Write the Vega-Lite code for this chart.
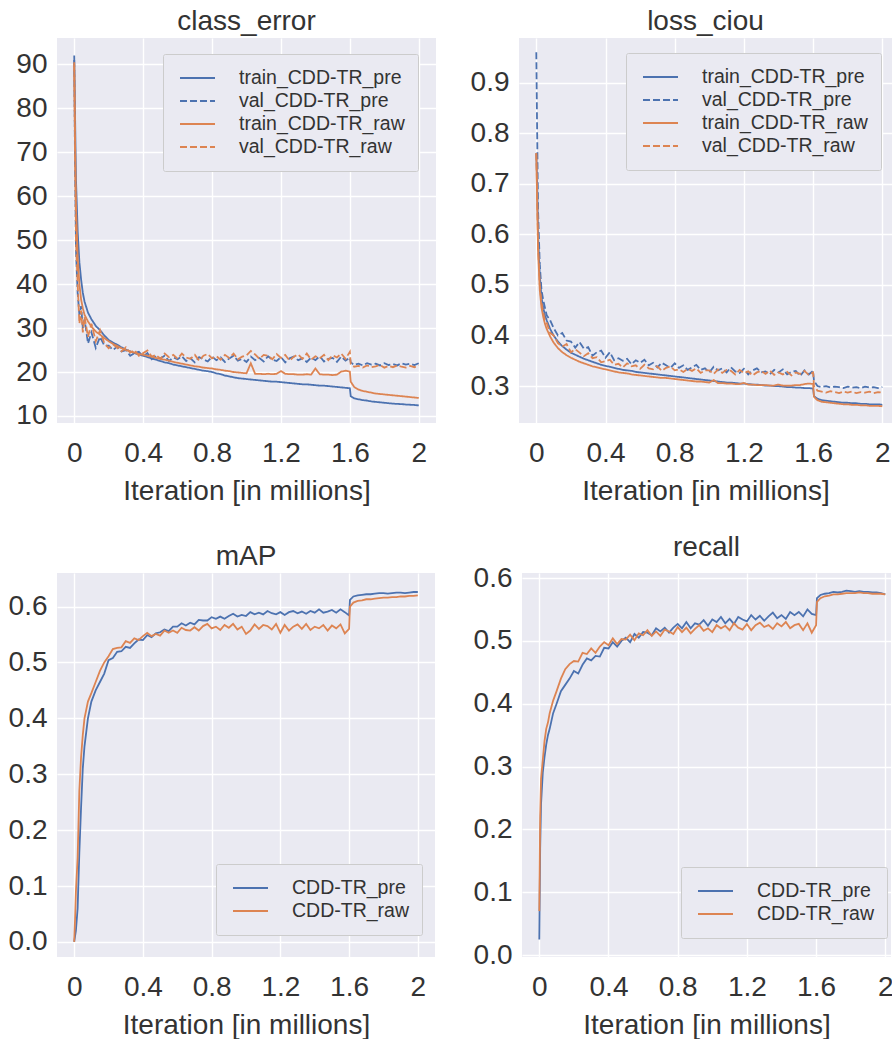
{
"$schema": "https://vega.github.io/schema/vega-lite/v6.json",
"padding": {"left": 0, "top": 8, "right": 0, "bottom": 0},
"background": "white",
"config": {
 "font": "Liberation Sans",
 "view": {"fill": "#EAEAF2", "stroke": null},
 "axis": {"domain": false, "ticks": false, "grid": true, "gridColor": "#FFFFFF", "gridWidth": 1.4, "labelFontSize": 28, "labelColor": "#333333", "titleFontSize": 28, "titleFontWeight": "normal", "titleColor": "#333333", "labelFlush": false, "labelOverlap": false},
 "axisX": {"labelPadding": 16, "titlePadding": 10},
 "axisY": {"labelPadding": 10},
 "title": {"fontSize": 28, "fontWeight": "normal", "color": "#333333", "offset": 2},
 "legend": {"title": null, "direction": "vertical", "symbolType": "stroke", "symbolStrokeWidth": 2, "symbolSize": 1225, "symbolOffset": 3.5, "clipHeight": 23, "labelFontSize": 19.5, "labelColor": "#333333", "labelOffset": 23, "labelLimit": 400, "padding": 12.5, "rowPadding": 0, "fillColor": "#EAEAF2", "strokeColor": "#CCCCCC", "cornerRadius": 2}
},
"datasets": {
"ce": [
{"x":0,"tp":92,"vp":91,"tr":90.5,"vr":90},
{"x":0.005,"tp":78,"vp":65,"tr":72,"vr":68},
{"x":0.01,"tp":64,"vp":48,"tr":58,"vr":50},
{"x":0.02,"tp":52,"vp":38,"tr":46,"vr":40},
{"x":0.03,"tp":45,"vp":33,"tr":40,"vr":31},
{"x":0.04,"tp":41,"vp":35,"tr":36.5,"vr":34},
{"x":0.05,"tp":38,"vp":30,"tr":34.5,"vr":29},
{"x":0.06,"tp":36,"vp":32,"tr":33,"vr":32.5},
{"x":0.08,"tp":33.5,"vp":26.5,"tr":31.5,"vr":28},
{"x":0.1,"tp":32,"vp":29,"tr":30.3,"vr":31},
{"x":0.125,"tp":30.5,"vp":25.5,"tr":29.2,"vr":27},
{"x":0.15,"tp":29.5,"vp":28,"tr":28.5,"vr":29.5},
{"x":0.175,"tp":28.3,"vp":26,"tr":27.7,"vr":26.5},
{"x":0.2,"tp":27.3,"vp":26.0,"tr":27.0,"vr":25.4},
{"x":0.225,"tp":26.7,"vp":25.0,"tr":26.4,"vr":26.3},
{"x":0.25,"tp":26.2,"vp":25.8,"tr":25.9,"vr":25.5},
{"x":0.275,"tp":25.6,"vp":24.7,"tr":25.4,"vr":24.7},
{"x":0.3,"tp":25.1,"vp":25.0,"tr":25.0,"vr":25.6},
{"x":0.325,"tp":24.7,"vp":23.7,"tr":24.7,"vr":24.4},
{"x":0.35,"tp":24.3,"vp":24.3,"tr":24.4,"vr":25.0},
{"x":0.375,"tp":24.0,"vp":24.6,"tr":24.1,"vr":23.7},
{"x":0.4,"tp":23.7,"vp":23.5,"tr":23.9,"vr":24.3},
{"x":0.425,"tp":23.4,"vp":24.3,"tr":23.7,"vr":24.9},
{"x":0.45,"tp":23.1,"vp":22.9,"tr":23.5,"vr":23.5},
{"x":0.475,"tp":22.8,"vp":23.6,"tr":23.2,"vr":23.9},
{"x":0.5,"tp":22.5,"vp":23.1,"tr":23.0,"vr":23.0},
{"x":0.525,"tp":22.2,"vp":23.7,"tr":22.8,"vr":24.2},
{"x":0.55,"tp":22.0,"vp":22.5,"tr":22.6,"vr":23.4},
{"x":0.575,"tp":21.7,"vp":23.3,"tr":22.3,"vr":23.9},
{"x":0.6,"tp":21.5,"vp":22.9,"tr":22.1,"vr":23.0},
{"x":0.625,"tp":21.3,"vp":23.6,"tr":21.9,"vr":24.2},
{"x":0.65,"tp":21.1,"vp":22.5,"tr":21.7,"vr":23.3},
{"x":0.675,"tp":20.9,"vp":23.1,"tr":21.5,"vr":23.0},
{"x":0.7,"tp":20.7,"vp":22.2,"tr":21.3,"vr":23.9},
{"x":0.725,"tp":20.5,"vp":23.4,"tr":21.2,"vr":22.6},
{"x":0.75,"tp":20.3,"vp":22.9,"tr":21.0,"vr":23.7},
{"x":0.775,"tp":20.2,"vp":22.4,"tr":20.9,"vr":24.1},
{"x":0.8,"tp":20.0,"vp":23.5,"tr":20.8,"vr":23.1},
{"x":0.825,"tp":19.7,"vp":22.7,"tr":20.6,"vr":23.6},
{"x":0.85,"tp":19.5,"vp":23.3,"tr":20.5,"vr":22.8},
{"x":0.875,"tp":19.2,"vp":22.3,"tr":20.3,"vr":23.9},
{"x":0.9,"tp":19.0,"vp":23.1,"tr":20.2,"vr":23.2},
{"x":0.925,"tp":18.8,"vp":23.7,"tr":20.0,"vr":24.2},
{"x":0.95,"tp":18.6,"vp":22.6,"tr":19.9,"vr":22.9},
{"x":0.975,"tp":18.5,"vp":23.0,"tr":19.8,"vr":23.5},
{"x":1.0,"tp":18.4,"vp":22.3,"tr":19.7,"vr":23.8},
{"x":1.025,"tp":18.3,"vp":23.5,"tr":22.0,"vr":24.8},
{"x":1.05,"tp":18.2,"vp":22.7,"tr":19.6,"vr":24.0},
{"x":1.075,"tp":18.1,"vp":23.2,"tr":19.6,"vr":23.0},
{"x":1.1,"tp":18.0,"vp":22.4,"tr":19.5,"vr":23.9},
{"x":1.125,"tp":17.9,"vp":23.6,"tr":19.6,"vr":23.7},
{"x":1.15,"tp":17.8,"vp":22.8,"tr":19.5,"vr":22.9},
{"x":1.175,"tp":17.8,"vp":22.5,"tr":19.6,"vr":24.1},
{"x":1.2,"tp":17.7,"vp":23.4,"tr":20.2,"vr":23.2},
{"x":1.225,"tp":17.6,"vp":22.2,"tr":19.6,"vr":23.9},
{"x":1.25,"tp":17.5,"vp":23.1,"tr":19.5,"vr":22.6},
{"x":1.275,"tp":17.4,"vp":23.5,"tr":19.5,"vr":23.5},
{"x":1.3,"tp":17.3,"vp":22.7,"tr":19.4,"vr":24.0},
{"x":1.325,"tp":17.2,"vp":23.1,"tr":19.4,"vr":23.0},
{"x":1.35,"tp":17.2,"vp":22.3,"tr":19.5,"vr":24.2},
{"x":1.375,"tp":17.1,"vp":23.3,"tr":19.4,"vr":22.8},
{"x":1.4,"tp":17.0,"vp":22.7,"tr":20.8,"vr":23.6},
{"x":1.425,"tp":16.9,"vp":23.6,"tr":19.5,"vr":23.1},
{"x":1.45,"tp":16.9,"vp":22.4,"tr":19.4,"vr":23.9},
{"x":1.475,"tp":16.8,"vp":23.0,"tr":19.4,"vr":22.7},
{"x":1.5,"tp":16.7,"vp":23.2,"tr":19.3,"vr":23.8},
{"x":1.525,"tp":16.6,"vp":22.3,"tr":19.4,"vr":23.3},
{"x":1.55,"tp":16.5,"vp":23.5,"tr":20.1,"vr":24.2},
{"x":1.575,"tp":16.4,"vp":22.6,"tr":20.3,"vr":23.0},
{"x":1.6,"tp":16.3,"vp":23.3,"tr":20.1,"vr":24.6},
{"x":1.605,"tp":14.5,"vp":22.2,"tr":17.8,"vr":21.8},
{"x":1.625,"tp":14.0,"vp":21.6,"tr":16.6,"vr":21.2},
{"x":1.65,"tp":13.8,"vp":21.9,"tr":16.0,"vr":21.4},
{"x":1.675,"tp":13.6,"vp":21.5,"tr":15.7,"vr":21.0},
{"x":1.7,"tp":13.5,"vp":22.0,"tr":15.5,"vr":21.5},
{"x":1.725,"tp":13.3,"vp":21.7,"tr":15.3,"vr":21.1},
{"x":1.75,"tp":13.2,"vp":21.9,"tr":15.1,"vr":21.3},
{"x":1.775,"tp":13.1,"vp":21.5,"tr":15.0,"vr":21.6},
{"x":1.8,"tp":13.0,"vp":22.0,"tr":14.9,"vr":21.0},
{"x":1.825,"tp":12.9,"vp":21.6,"tr":14.8,"vr":21.4},
{"x":1.85,"tp":12.8,"vp":21.8,"tr":14.7,"vr":21.1},
{"x":1.875,"tp":12.75,"vp":21.5,"tr":14.6,"vr":21.5},
{"x":1.9,"tp":12.7,"vp":22.0,"tr":14.5,"vr":21.2},
{"x":1.925,"tp":12.6,"vp":21.7,"tr":14.4,"vr":21.0},
{"x":1.95,"tp":12.55,"vp":21.9,"tr":14.3,"vr":21.4},
{"x":1.975,"tp":12.5,"vp":21.6,"tr":14.2,"vr":21.1},
{"x":2.0,"tp":12.4,"vp":22.0,"tr":14.1,"vr":21.5}
],
"ciou": [
{"x":0,"tp":0.76,"vp":0.96,"tr":0.76,"vr":0.76},
{"x":0.005,"tp":0.70,"vp":0.80,"tr":0.66,"vr":0.68},
{"x":0.01,"tp":0.60,"vp":0.65,"tr":0.57,"vr":0.58},
{"x":0.02,"tp":0.52,"vp":0.54,"tr":0.49,"vr":0.50},
{"x":0.03,"tp":0.475,"vp":0.49,"tr":0.455,"vr":0.465},
{"x":0.04,"tp":0.455,"vp":0.47,"tr":0.437,"vr":0.445},
{"x":0.05,"tp":0.44,"vp":0.455,"tr":0.423,"vr":0.43},
{"x":0.06,"tp":0.43,"vp":0.44,"tr":0.413,"vr":0.425},
{"x":0.08,"tp":0.413,"vp":0.43,"tr":0.398,"vr":0.405},
{"x":0.1,"tp":0.40,"vp":0.415,"tr":0.386,"vr":0.40},
{"x":0.125,"tp":0.388,"vp":0.40,"tr":0.375,"vr":0.385},
{"x":0.15,"tp":0.379,"vp":0.405,"tr":0.367,"vr":0.378},
{"x":0.175,"tp":0.372,"vp":0.39,"tr":0.361,"vr":0.383},
{"x":0.2,"tp":0.366,"vp":0.388,"tr":0.356,"vr":0.367},
{"x":0.225,"tp":0.362,"vp":0.376,"tr":0.352,"vr":0.373},
{"x":0.25,"tp":0.358,"vp":0.387,"tr":0.348,"vr":0.366},
{"x":0.275,"tp":0.354,"vp":0.374,"tr":0.345,"vr":0.359},
{"x":0.3,"tp":0.351,"vp":0.377,"tr":0.342,"vr":0.365},
{"x":0.325,"tp":0.348,"vp":0.360,"tr":0.339,"vr":0.355},
{"x":0.35,"tp":0.345,"vp":0.367,"tr":0.337,"vr":0.357},
{"x":0.375,"tp":0.342,"vp":0.370,"tr":0.335,"vr":0.347},
{"x":0.4,"tp":0.340,"vp":0.356,"tr":0.333,"vr":0.349},
{"x":0.425,"tp":0.338,"vp":0.367,"tr":0.331,"vr":0.352},
{"x":0.45,"tp":0.336,"vp":0.351,"tr":0.329,"vr":0.342},
{"x":0.475,"tp":0.334,"vp":0.355,"tr":0.327,"vr":0.344},
{"x":0.5,"tp":0.332,"vp":0.350,"tr":0.326,"vr":0.337},
{"x":0.525,"tp":0.331,"vp":0.354,"tr":0.325,"vr":0.345},
{"x":0.55,"tp":0.330,"vp":0.343,"tr":0.323,"vr":0.339},
{"x":0.575,"tp":0.328,"vp":0.351,"tr":0.322,"vr":0.341},
{"x":0.6,"tp":0.327,"vp":0.346,"tr":0.321,"vr":0.334},
{"x":0.625,"tp":0.326,"vp":0.352,"tr":0.320,"vr":0.342},
{"x":0.65,"tp":0.325,"vp":0.341,"tr":0.319,"vr":0.335},
{"x":0.675,"tp":0.324,"vp":0.346,"tr":0.318,"vr":0.333},
{"x":0.7,"tp":0.323,"vp":0.337,"tr":0.317,"vr":0.339},
{"x":0.725,"tp":0.322,"vp":0.346,"tr":0.316,"vr":0.330},
{"x":0.75,"tp":0.321,"vp":0.341,"tr":0.316,"vr":0.336},
{"x":0.775,"tp":0.320,"vp":0.336,"tr":0.315,"vr":0.339},
{"x":0.8,"tp":0.319,"vp":0.345,"tr":0.314,"vr":0.331},
{"x":0.825,"tp":0.318,"vp":0.336,"tr":0.313,"vr":0.333},
{"x":0.85,"tp":0.317,"vp":0.341,"tr":0.312,"vr":0.328},
{"x":0.875,"tp":0.316,"vp":0.332,"tr":0.311,"vr":0.334},
{"x":0.9,"tp":0.315,"vp":0.337,"tr":0.310,"vr":0.330},
{"x":0.925,"tp":0.314,"vp":0.342,"tr":0.309,"vr":0.335},
{"x":0.95,"tp":0.313,"vp":0.332,"tr":0.309,"vr":0.326},
{"x":0.975,"tp":0.312,"vp":0.335,"tr":0.308,"vr":0.331},
{"x":1.0,"tp":0.311,"vp":0.327,"tr":0.307,"vr":0.331},
{"x":1.025,"tp":0.310,"vp":0.338,"tr":0.312,"vr":0.324},
{"x":1.05,"tp":0.309,"vp":0.331,"tr":0.306,"vr":0.333},
{"x":1.075,"tp":0.308,"vp":0.335,"tr":0.306,"vr":0.326},
{"x":1.1,"tp":0.307,"vp":0.327,"tr":0.305,"vr":0.332},
{"x":1.125,"tp":0.307,"vp":0.337,"tr":0.305,"vr":0.330},
{"x":1.15,"tp":0.306,"vp":0.329,"tr":0.304,"vr":0.323},
{"x":1.175,"tp":0.305,"vp":0.326,"tr":0.304,"vr":0.332},
{"x":1.2,"tp":0.305,"vp":0.334,"tr":0.306,"vr":0.326},
{"x":1.225,"tp":0.304,"vp":0.323,"tr":0.303,"vr":0.329},
{"x":1.25,"tp":0.303,"vp":0.331,"tr":0.303,"vr":0.321},
{"x":1.275,"tp":0.303,"vp":0.335,"tr":0.302,"vr":0.327},
{"x":1.3,"tp":0.302,"vp":0.327,"tr":0.302,"vr":0.330},
{"x":1.325,"tp":0.301,"vp":0.329,"tr":0.302,"vr":0.324},
{"x":1.35,"tp":0.301,"vp":0.323,"tr":0.301,"vr":0.331},
{"x":1.375,"tp":0.300,"vp":0.332,"tr":0.301,"vr":0.322},
{"x":1.4,"tp":0.300,"vp":0.327,"tr":0.303,"vr":0.327},
{"x":1.425,"tp":0.299,"vp":0.333,"tr":0.301,"vr":0.323},
{"x":1.45,"tp":0.298,"vp":0.323,"tr":0.301,"vr":0.328},
{"x":1.475,"tp":0.298,"vp":0.328,"tr":0.301,"vr":0.321},
{"x":1.5,"tp":0.297,"vp":0.330,"tr":0.302,"vr":0.327},
{"x":1.525,"tp":0.297,"vp":0.320,"tr":0.302,"vr":0.324},
{"x":1.55,"tp":0.296,"vp":0.331,"tr":0.304,"vr":0.330},
{"x":1.575,"tp":0.296,"vp":0.323,"tr":0.305,"vr":0.322},
{"x":1.6,"tp":0.295,"vp":0.330,"tr":0.304,"vr":0.327},
{"x":1.605,"tp":0.280,"vp":0.310,"tr":0.279,"vr":0.300},
{"x":1.625,"tp":0.275,"vp":0.300,"tr":0.272,"vr":0.291},
{"x":1.65,"tp":0.272,"vp":0.298,"tr":0.269,"vr":0.289},
{"x":1.675,"tp":0.271,"vp":0.300,"tr":0.268,"vr":0.287},
{"x":1.7,"tp":0.270,"vp":0.297,"tr":0.267,"vr":0.290},
{"x":1.725,"tp":0.269,"vp":0.299,"tr":0.266,"vr":0.288},
{"x":1.75,"tp":0.268,"vp":0.298,"tr":0.265,"vr":0.286},
{"x":1.775,"tp":0.267,"vp":0.296,"tr":0.264,"vr":0.289},
{"x":1.8,"tp":0.267,"vp":0.299,"tr":0.264,"vr":0.287},
{"x":1.825,"tp":0.266,"vp":0.297,"tr":0.263,"vr":0.289},
{"x":1.85,"tp":0.266,"vp":0.298,"tr":0.263,"vr":0.286},
{"x":1.875,"tp":0.265,"vp":0.296,"tr":0.262,"vr":0.288},
{"x":1.9,"tp":0.265,"vp":0.299,"tr":0.262,"vr":0.287},
{"x":1.925,"tp":0.264,"vp":0.297,"tr":0.261,"vr":0.289},
{"x":1.95,"tp":0.264,"vp":0.298,"tr":0.261,"vr":0.286},
{"x":1.975,"tp":0.264,"vp":0.296,"tr":0.261,"vr":0.288},
{"x":2.0,"tp":0.263,"vp":0.298,"tr":0.260,"vr":0.287}
],
"map": [
{"x":0,"p":0,"r":0},
{"x":0.005,"p":0.01,"r":0.04},
{"x":0.01,"p":0.02,"r":0.09},
{"x":0.02,"p":0.06,"r":0.15},
{"x":0.03,"p":0.16,"r":0.27},
{"x":0.04,"p":0.24,"r":0.33},
{"x":0.05,"p":0.31,"r":0.37},
{"x":0.06,"p":0.35,"r":0.40},
{"x":0.08,"p":0.40,"r":0.43},
{"x":0.1,"p":0.43,"r":0.445},
{"x":0.125,"p":0.45,"r":0.465},
{"x":0.15,"p":0.465,"r":0.485},
{"x":0.175,"p":0.48,"r":0.50},
{"x":0.2,"p":0.504,"r":0.511},
{"x":0.225,"p":0.508,"r":0.524},
{"x":0.25,"p":0.519,"r":0.526},
{"x":0.275,"p":0.520,"r":0.527},
{"x":0.3,"p":0.528,"r":0.538},
{"x":0.325,"p":0.526,"r":0.535},
{"x":0.35,"p":0.534,"r":0.543},
{"x":0.375,"p":0.541,"r":0.540},
{"x":0.4,"p":0.540,"r":0.547},
{"x":0.425,"p":0.549,"r":0.553},
{"x":0.45,"p":0.545,"r":0.547},
{"x":0.475,"p":0.552,"r":0.551},
{"x":0.5,"p":0.554,"r":0.548},
{"x":0.525,"p":0.559,"r":0.557},
{"x":0.55,"p":0.556,"r":0.553},
{"x":0.575,"p":0.564,"r":0.557},
{"x":0.6,"p":0.564,"r":0.553},
{"x":0.625,"p":0.570,"r":0.562},
{"x":0.65,"p":0.566,"r":0.558},
{"x":0.675,"p":0.571,"r":0.557},
{"x":0.7,"p":0.568,"r":0.563},
{"x":0.725,"p":0.576,"r":0.557},
{"x":0.75,"p":0.575,"r":0.565},
{"x":0.775,"p":0.575,"r":0.569},
{"x":0.8,"p":0.581,"r":0.561},
{"x":0.825,"p":0.578,"r":0.564},
{"x":0.85,"p":0.582,"r":0.558},
{"x":0.875,"p":0.578,"r":0.567},
{"x":0.9,"p":0.583,"r":0.562},
{"x":0.925,"p":0.587,"r":0.569},
{"x":0.95,"p":0.582,"r":0.559},
{"x":0.975,"p":0.585,"r":0.564},
{"x":1.0,"p":0.583,"r":0.551},
{"x":1.025,"p":0.590,"r":0.557},
{"x":1.05,"p":0.586,"r":0.568},
{"x":1.075,"p":0.589,"r":0.560},
{"x":1.1,"p":0.586,"r":0.567},
{"x":1.125,"p":0.592,"r":0.565},
{"x":1.15,"p":0.588,"r":0.559},
{"x":1.175,"p":0.586,"r":0.569},
{"x":1.2,"p":0.590,"r":0.553},
{"x":1.225,"p":0.585,"r":0.567},
{"x":1.25,"p":0.590,"r":0.557},
{"x":1.275,"p":0.592,"r":0.564},
{"x":1.3,"p":0.588,"r":0.568},
{"x":1.325,"p":0.591,"r":0.560},
{"x":1.35,"p":0.587,"r":0.569},
{"x":1.375,"p":0.592,"r":0.558},
{"x":1.4,"p":0.589,"r":0.564},
{"x":1.425,"p":0.595,"r":0.561},
{"x":1.45,"p":0.589,"r":0.567},
{"x":1.475,"p":0.591,"r":0.557},
{"x":1.5,"p":0.594,"r":0.566},
{"x":1.525,"p":0.589,"r":0.561},
{"x":1.55,"p":0.595,"r":0.568},
{"x":1.575,"p":0.590,"r":0.552},
{"x":1.6,"p":0.584,"r":0.560},
{"x":1.605,"p":0.612,"r":0.600},
{"x":1.625,"p":0.618,"r":0.607},
{"x":1.65,"p":0.620,"r":0.610},
{"x":1.675,"p":0.621,"r":0.611},
{"x":1.7,"p":0.622,"r":0.613},
{"x":1.725,"p":0.622,"r":0.613},
{"x":1.75,"p":0.623,"r":0.614},
{"x":1.775,"p":0.624,"r":0.615},
{"x":1.8,"p":0.624,"r":0.616},
{"x":1.825,"p":0.623,"r":0.616},
{"x":1.85,"p":0.624,"r":0.617},
{"x":1.875,"p":0.625,"r":0.617},
{"x":1.9,"p":0.625,"r":0.618},
{"x":1.925,"p":0.624,"r":0.618},
{"x":1.95,"p":0.625,"r":0.619},
{"x":1.975,"p":0.626,"r":0.619},
{"x":2.0,"p":0.626,"r":0.620}
],
"recall": [
{"x":0,"p":0.025,"r":0.07},
{"x":0.005,"p":0.17,"r":0.22},
{"x":0.01,"p":0.24,"r":0.28},
{"x":0.02,"p":0.29,"r":0.31},
{"x":0.03,"p":0.315,"r":0.34},
{"x":0.04,"p":0.335,"r":0.36},
{"x":0.05,"p":0.35,"r":0.37},
{"x":0.06,"p":0.36,"r":0.385},
{"x":0.08,"p":0.385,"r":0.405},
{"x":0.1,"p":0.40,"r":0.42},
{"x":0.125,"p":0.42,"r":0.44},
{"x":0.15,"p":0.43,"r":0.455},
{"x":0.175,"p":0.44,"r":0.463},
{"x":0.2,"p":0.452,"r":0.468},
{"x":0.225,"p":0.448,"r":0.467},
{"x":0.25,"p":0.462,"r":0.481},
{"x":0.275,"p":0.472,"r":0.479},
{"x":0.3,"p":0.469,"r":0.488},
{"x":0.325,"p":0.476,"r":0.481},
{"x":0.35,"p":0.475,"r":0.491},
{"x":0.375,"p":0.489,"r":0.498},
{"x":0.4,"p":0.488,"r":0.493},
{"x":0.425,"p":0.498,"r":0.504},
{"x":0.45,"p":0.491,"r":0.495},
{"x":0.475,"p":0.500,"r":0.503},
{"x":0.5,"p":0.505,"r":0.502},
{"x":0.525,"p":0.498,"r":0.510},
{"x":0.55,"p":0.511,"r":0.501},
{"x":0.575,"p":0.505,"r":0.512},
{"x":0.6,"p":0.514,"r":0.509},
{"x":0.625,"p":0.513,"r":0.517},
{"x":0.65,"p":0.509,"r":0.508},
{"x":0.675,"p":0.520,"r":0.515},
{"x":0.7,"p":0.515,"r":0.508},
{"x":0.725,"p":0.521,"r":0.518},
{"x":0.75,"p":0.513,"r":0.515},
{"x":0.775,"p":0.521,"r":0.511},
{"x":0.8,"p":0.527,"r":0.522},
{"x":0.825,"p":0.520,"r":0.514},
{"x":0.85,"p":0.530,"r":0.521},
{"x":0.875,"p":0.520,"r":0.512},
{"x":0.9,"p":0.528,"r":0.519},
{"x":0.925,"p":0.526,"r":0.525},
{"x":0.95,"p":0.533,"r":0.516},
{"x":0.975,"p":0.524,"r":0.520},
{"x":1.0,"p":0.534,"r":0.514},
{"x":1.025,"p":0.530,"r":0.525},
{"x":1.05,"p":0.538,"r":0.520},
{"x":1.075,"p":0.528,"r":0.524},
{"x":1.1,"p":0.535,"r":0.517},
{"x":1.125,"p":0.527,"r":0.528},
{"x":1.15,"p":0.538,"r":0.521},
{"x":1.175,"p":0.534,"r":0.518},
{"x":1.2,"p":0.531,"r":0.527},
{"x":1.225,"p":0.541,"r":0.517},
{"x":1.25,"p":0.534,"r":0.525},
{"x":1.275,"p":0.540,"r":0.529},
{"x":1.3,"p":0.532,"r":0.522},
{"x":1.325,"p":0.539,"r":0.525},
{"x":1.35,"p":0.545,"r":0.519},
{"x":1.375,"p":0.536,"r":0.528},
{"x":1.4,"p":0.541,"r":0.523},
{"x":1.425,"p":0.535,"r":0.530},
{"x":1.45,"p":0.546,"r":0.520},
{"x":1.475,"p":0.541,"r":0.525},
{"x":1.5,"p":0.546,"r":0.527},
{"x":1.525,"p":0.539,"r":0.517},
{"x":1.55,"p":0.550,"r":0.528},
{"x":1.575,"p":0.543,"r":0.513},
{"x":1.6,"p":0.541,"r":0.525},
{"x":1.605,"p":0.568,"r":0.562},
{"x":1.625,"p":0.573,"r":0.568},
{"x":1.65,"p":0.575,"r":0.571},
{"x":1.675,"p":0.576,"r":0.572},
{"x":1.7,"p":0.578,"r":0.574},
{"x":1.725,"p":0.577,"r":0.574},
{"x":1.75,"p":0.578,"r":0.575},
{"x":1.775,"p":0.580,"r":0.576},
{"x":1.8,"p":0.579,"r":0.576},
{"x":1.825,"p":0.578,"r":0.576},
{"x":1.85,"p":0.579,"r":0.577},
{"x":1.875,"p":0.578,"r":0.576},
{"x":1.9,"p":0.578,"r":0.576},
{"x":1.925,"p":0.577,"r":0.575},
{"x":1.95,"p":0.577,"r":0.575},
{"x":1.975,"p":0.576,"r":0.575},
{"x":2.0,"p":0.574,"r":0.574}
]
},
"vconcat": [
{
"hconcat": [
{
"width": 379, "height": 385,
"title": "class_error",
"data": {"name": "ce"},
"transform": [{"fold": ["tp","vp","tr","vr"], "as": ["s","y"]}],
"mark": {"type": "line", "strokeWidth": 1.8, "clip": true},
"encoding": {
"x": {"field": "x", "type": "quantitative", "scale": {"domain": [-0.1, 2.1], "nice": false, "zero": false}, "axis": {"values": [0,0.4,0.8,1.2,1.6,2], "format": "~g", "title": "Iteration [in millions]"}},
"y": {"field": "y", "type": "quantitative", "scale": {"domain": [8.4, 96], "nice": false, "zero": false}, "axis": {"values": [10,20,30,40,50,60,70,80,90], "title": null, "minExtent": 56, "maxExtent": 56}},
"color": {"field": "s", "type": "nominal", "scale": {"domain": ["tp","vp","tr","vr"], "range": ["#4C72B0","#4C72B0","#DD8452","#DD8452"]}, "legend": {"orient": "none", "legendX": 106, "legendY": 16, "labelExpr": "datum.label == 'tp' ? 'train_CDD-TR_pre' : datum.label == 'vp' ? 'val_CDD-TR_pre' : datum.label == 'tr' ? 'train_CDD-TR_raw' : 'val_CDD-TR_raw'"}},
"strokeDash": {"field": "s", "type": "nominal", "scale": {"domain": ["tp","vp","tr","vr"], "range": [[1,0],[7,3],[1,0],[7,3]]}, "legend": {"orient": "none", "legendX": 106, "legendY": 16, "labelExpr": "datum.label == 'tp' ? 'train_CDD-TR_pre' : datum.label == 'vp' ? 'val_CDD-TR_pre' : datum.label == 'tr' ? 'train_CDD-TR_raw' : 'val_CDD-TR_raw'"}}
}
},
{
"width": 373, "height": 385,
"title": "loss_ciou",
"data": {"name": "ciou"},
"transform": [{"fold": ["tp","vp","tr","vr"], "as": ["s","y"]}],
"mark": {"type": "line", "strokeWidth": 1.8, "clip": true},
"encoding": {
"x": {"field": "x", "type": "quantitative", "scale": {"domain": [-0.1, 2.056], "nice": false, "zero": false}, "axis": {"values": [0,0.4,0.8,1.2,1.6,2], "format": "~g", "title": "Iteration [in millions]"}},
"y": {"field": "y", "type": "quantitative", "scale": {"domain": [0.227, 0.988], "nice": false, "zero": false}, "axis": {"values": [0.3,0.4,0.5,0.6,0.7,0.8,0.9], "format": ".1f", "title": null, "minExtent": 75, "maxExtent": 75}},
"color": {"field": "s", "type": "nominal", "scale": {"domain": ["tp","vp","tr","vr"], "range": ["#4C72B0","#4C72B0","#DD8452","#DD8452"]}, "legend": {"orient": "none", "legendX": 107, "legendY": 15, "labelExpr": "datum.label == 'tp' ? 'train_CDD-TR_pre' : datum.label == 'vp' ? 'val_CDD-TR_pre' : datum.label == 'tr' ? 'train_CDD-TR_raw' : 'val_CDD-TR_raw'"}},
"strokeDash": {"field": "s", "type": "nominal", "scale": {"domain": ["tp","vp","tr","vr"], "range": [[1,0],[7,3],[1,0],[7,3]]}, "legend": {"orient": "none", "legendX": 107, "legendY": 15, "labelExpr": "datum.label == 'tp' ? 'train_CDD-TR_pre' : datum.label == 'vp' ? 'val_CDD-TR_pre' : datum.label == 'tr' ? 'train_CDD-TR_raw' : 'val_CDD-TR_raw'"}}
}
}
],
"spacing": 8,
"resolve": {"scale": {"x": "independent", "y": "independent", "color": "independent", "strokeDash": "independent"}}
},
{
"hconcat": [
{
"width": 378, "height": 384,
"title": "mAP",
"data": {"name": "map"},
"transform": [{"fold": ["p","r"], "as": ["s","y"]}],
"mark": {"type": "line", "strokeWidth": 1.8, "clip": true},
"encoding": {
"x": {"field": "x", "type": "quantitative", "scale": {"domain": [-0.1, 2.1], "nice": false, "zero": false}, "axis": {"values": [0,0.4,0.8,1.2,1.6,2], "format": "~g", "title": "Iteration [in millions]"}},
"y": {"field": "y", "type": "quantitative", "scale": {"domain": [-0.027, 0.66], "nice": false, "zero": false}, "axis": {"values": [0,0.1,0.2,0.3,0.4,0.5,0.6], "format": ".1f", "title": null, "minExtent": 57, "maxExtent": 57}},
"color": {"field": "s", "type": "nominal", "scale": {"domain": ["p","r"], "range": ["#4C72B0","#DD8452"]}, "legend": {"orient": "none", "legendX": 159, "legendY": 291, "labelExpr": "datum.label == 'p' ? 'CDD-TR_pre' : 'CDD-TR_raw'"}}
}
},
{
"width": 369, "height": 384,
"title": "recall",
"data": {"name": "recall"},
"transform": [{"fold": ["p","r"], "as": ["s","y"]}],
"mark": {"type": "line", "strokeWidth": 1.8, "clip": true},
"encoding": {
"x": {"field": "x", "type": "quantitative", "scale": {"domain": [-0.1, 2.033], "nice": false, "zero": false}, "axis": {"values": [0,0.4,0.8,1.2,1.6,2], "format": "~g", "title": "Iteration [in millions]"}},
"y": {"field": "y", "type": "quantitative", "scale": {"domain": [-0.003, 0.608], "nice": false, "zero": false}, "axis": {"values": [0,0.1,0.2,0.3,0.4,0.5,0.6], "format": ".1f", "title": null, "minExtent": 79, "maxExtent": 79}},
"color": {"field": "s", "type": "nominal", "scale": {"domain": ["p","r"], "range": ["#4C72B0","#DD8452"]}, "legend": {"orient": "none", "legendX": 159, "legendY": 294, "labelExpr": "datum.label == 'p' ? 'CDD-TR_pre' : 'CDD-TR_raw'"}}
}
}
],
"spacing": 8,
"resolve": {"scale": {"x": "independent", "y": "independent", "color": "independent"}}
}
],
"spacing": 29,
"resolve": {"scale": {"x": "independent", "y": "independent", "color": "independent", "strokeDash": "independent"}}
}
